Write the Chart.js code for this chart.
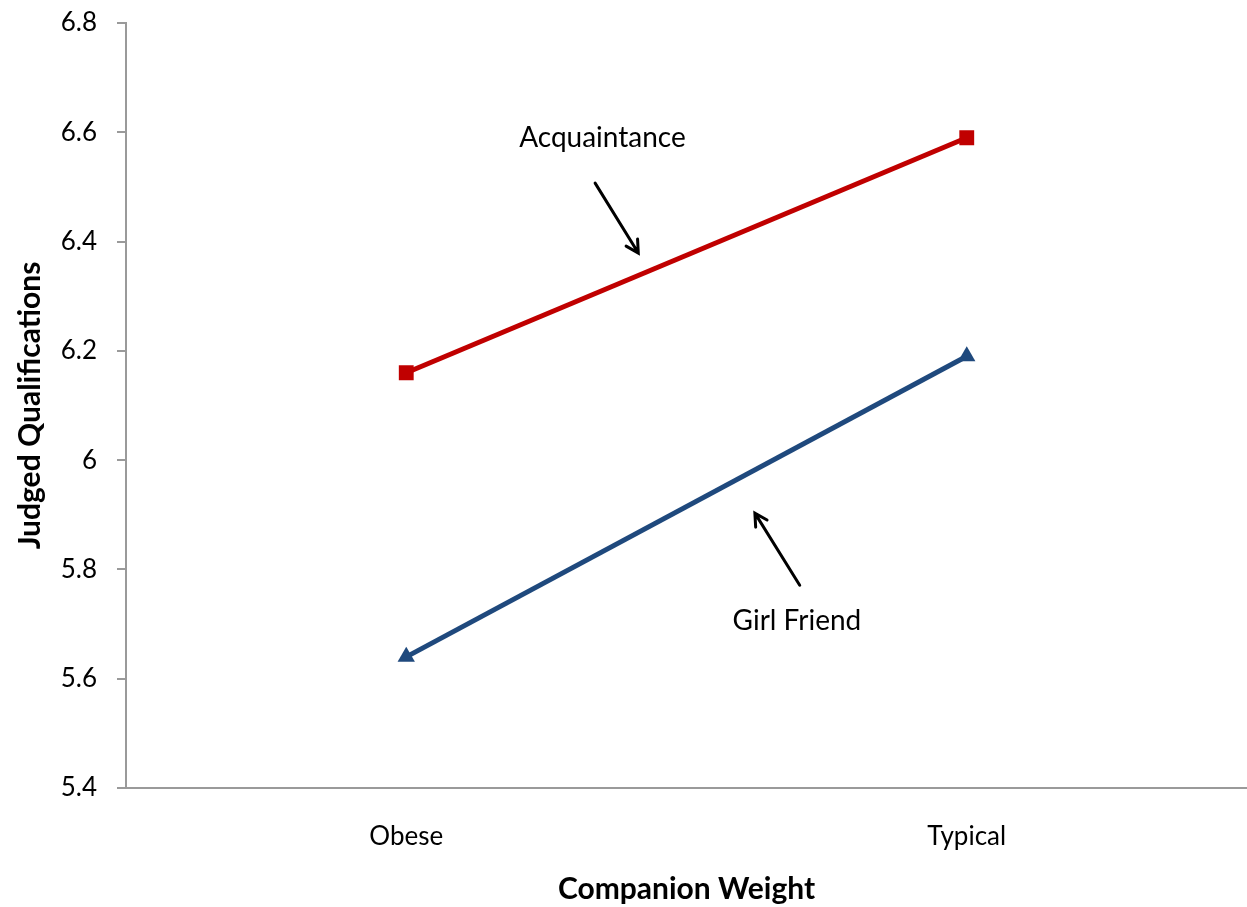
<!DOCTYPE html>
<html>
<head>
<meta charset="utf-8">
<script src="https://cdn.jsdelivr.net/npm/chart.js@4/dist/chart.umd.min.js"></script>
<style>
  html, body { margin: 0; padding: 0; background: #fff; overflow: hidden; }
  #wrap { width: 1247px; height: 907px; }
  canvas { display: block; }
</style>
</head>
<body>
<div id="wrap"><canvas id="chart" width="1247" height="907"></canvas></div>
<script>
const categories = ["Obese", "Typical"];
const acquaintance = [6.16, 6.59];
const girlFriend = [5.64, 6.19];
const yTicks = [5.4, 5.6, 5.8, 6, 6.2, 6.4, 6.6, 6.8];

// labels with arrows, positioned in data units (x = category index, y = value)
const notes = [
    { text: "Acquaintance", at: [0.35, 6.59], from: [0.337, 6.507], to: [0.414, 6.379] },
    { text: "Girl Friend", at: [0.697, 5.706], from: [0.702, 5.771], to: [0.622, 5.903] }
];

const FONT = "Lato, 'Open Sans', sans-serif";

const notesPlugin = {
    id: "notes",
    afterDatasetsDraw(chart) {
        const { ctx, scales: { x, y } } = chart;
        const px = v => x.getPixelForValue(0) + v * (x.getPixelForValue(1) - x.getPixelForValue(0));
        ctx.save();
        for (const n of notes) {
            ctx.fillStyle = "#000";
            ctx.font = "28px " + FONT;
            ctx.textAlign = "center";
            ctx.textBaseline = "middle";
            ctx.fillText(n.text, px(n.at[0]), y.getPixelForValue(n.at[1]));

            const x1 = px(n.from[0]), y1 = y.getPixelForValue(n.from[1]);
            const x2 = px(n.to[0]), y2 = y.getPixelForValue(n.to[1]);
            ctx.strokeStyle = "#000";
            ctx.lineWidth = 3;
            ctx.lineCap = "round";
            ctx.beginPath();
            ctx.moveTo(x1, y1);
            ctx.lineTo(x2, y2);
            const a = Math.atan2(y2 - y1, x2 - x1);
            const h = 14;
            ctx.moveTo(x2 - h * Math.cos(a - 0.5), y2 - h * Math.sin(a - 0.5));
            ctx.lineTo(x2, y2);
            ctx.lineTo(x2 - h * Math.cos(a + 0.5), y2 - h * Math.sin(a + 0.5));
            ctx.stroke();
        }
        ctx.restore();
    }
};

new Chart(document.getElementById("chart"), {
    type: "line",
    data: {
        labels: categories,
        datasets: [
            {
                label: "Acquaintance",
                data: acquaintance,
                borderColor: "#C00000",
                backgroundColor: "#C00000",
                borderWidth: 5,
                pointStyle: "rect",
                pointRadius: 10.5,
                pointBorderWidth: 0,
                tension: 0
            },
            {
                label: "Girl Friend",
                data: girlFriend,
                borderColor: "#1F497D",
                backgroundColor: "#1F497D",
                borderWidth: 5,
                pointStyle: "triangle",
                pointRadius: 10,
                pointBorderWidth: 0,
                tension: 0
            }
        ]
    },
    options: {
        responsive: false,
        animation: false,
        layout: { autoPadding: false, padding: { top: 23, right: 0, bottom: 0, left: 0 } },
        plugins: { legend: { display: false }, tooltip: { enabled: false } },
        scales: {
            x: {
                offset: true,
                grid: { display: false, drawTicks: false },
                border: { display: true, color: "#9a9a9a", width: 2 },
                ticks: { color: "#000", font: { family: FONT, size: 26 }, padding: 33 },
                title: {
                    display: true, text: "Companion Weight", color: "#000",
                    font: { family: FONT, size: 30, weight: "bold" }, padding: { top: 4, bottom: 0 }
                },
                afterFit(s) { s.height = 119; s.paddingLeft = 0; s.paddingRight = 0; }
            },
            y: {
                min: 5.4, max: 6.8,
                afterBuildTicks(s) { s.ticks = yTicks.map(v => ({ value: v })); },
                grid: { drawOnChartArea: false, drawTicks: true, tickLength: 9, color: "#9a9a9a", lineWidth: 2 },
                border: { display: true, color: "#9a9a9a", width: 2 },
                ticks: {
                    color: "#000", font: { family: FONT, size: 26 }, padding: 20,
                    callback: v => String(Math.round(v * 10) / 10)
                },
                title: {
                    display: true, text: "Judged Qualifications", color: "#000",
                    font: { family: FONT, size: 30, weight: "bold" }, padding: { bottom: 0, top: 12 }
                },
                afterFit(s) { s.width = 126; s.paddingTop = 0; s.paddingBottom = 0; }
            }
        }
    },
    plugins: [notesPlugin]
});
</script>
</body>
</html>
